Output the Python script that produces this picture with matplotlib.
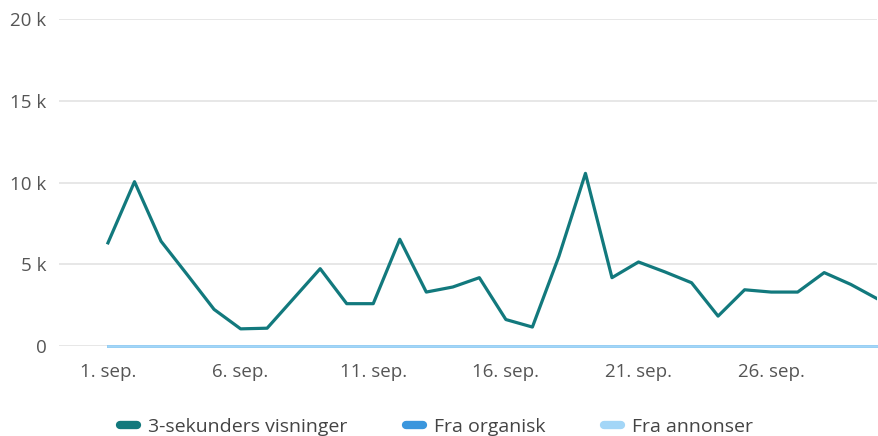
import matplotlib.pyplot as plt
from matplotlib.lines import Line2D

days = list(range(1, 31))
visninger = [6320, 10060, 6420, 4350, 2250, 1060, 1100, 2920, 4740, 2600,
             2600, 6540, 3310, 3620, 4190, 1630, 1170, 5500, 10570, 4190,
             5150, 4540, 3880, 1840, 3450, 3310, 3310, 4500, 3780, 2900]
organisk = [0] * 30
annonser = [0] * 30
tick_days = [1, 6, 11, 16, 21, 26]
tick_labels = ['%d. sep.' % d for d in tick_days]
y_ticks = [0, 5000, 10000, 15000, 20000]
y_labels = ['0', '5 k', '10 k', '15 k', '20 k']
series_names = ['3-sekunders visninger', 'Fra organisk', 'Fra annonser']

c_vis = '#12797d'
c_org = '#3a96dd'
c_ann = '#a3d6f7'

plt.rcParams['font.family'] = ['Open Sans', 'DejaVu Sans']

fig = plt.figure(figsize=(8.79, 4.36), dpi=100)
ax = fig.add_axes([0.067, 0.206, 0.931, 0.75])

ax.plot(days, organisk, color=c_org, lw=2.0, zorder=3, clip_on=False)
ax.plot(days, annonser, color=c_ann, lw=2.0, zorder=4, clip_on=False)
ax.plot(days, visninger, color=c_vis, lw=2.3, zorder=5)

ax.set_xlim(-0.85, 30.0)
ax.set_ylim(0, 20000)
ax.set_yticks(y_ticks)
ax.set_yticklabels(y_labels)
ax.set_xticks(tick_days)
ax.set_xticklabels(tick_labels)
ax.grid(axis='y', color='#e5e5e5', lw=1.3)
ax.set_axisbelow(True)
for s in ax.spines.values():
    s.set_visible(False)
ax.tick_params(length=0, labelsize=13.5, colors='#555555', pad=12)
ax.tick_params(axis='y', pad=9)

handles = [Line2D([], [], color=c, lw=6, solid_capstyle='round') for c in (c_vis, c_org, c_ann)]
fig.legend(handles, series_names,
           loc='center', bbox_to_anchor=(0.497, 0.02), ncol=3, frameon=False,
           handlelength=0.85, columnspacing=3.0, handletextpad=0.6,
           prop={'size': 14}, labelcolor='#444444')

fig.savefig('out.png', dpi=100)
